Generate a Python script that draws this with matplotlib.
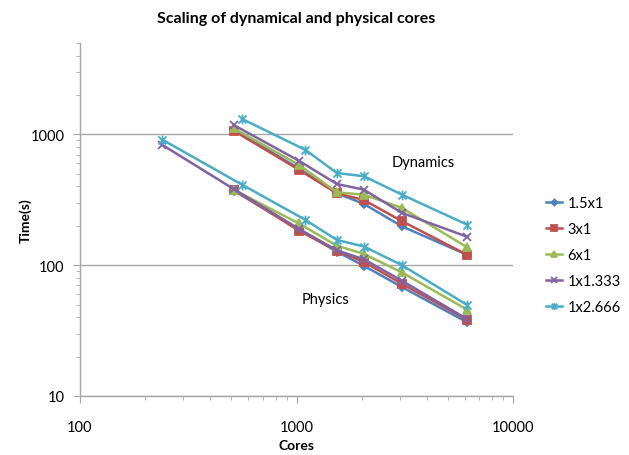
import matplotlib
matplotlib.use("Agg")
import matplotlib.pyplot as plt
from matplotlib.path import Path
from matplotlib.ticker import LogLocator, NullFormatter, FixedLocator, FixedFormatter

plt.rcParams['font.family'] = ['Lato', 'DejaVu Sans']

series_names = ["1.5x1", "3x1", "6x1", "1x1.333", "1x2.666"]

cores = [512, 1024, 1536, 2048, 3072, 6144]
cores_purple_phys = [240, 512, 1024, 1536, 2048, 3072, 6144]
cores_cyan_dyn = [560, 1100, 1536, 2048, 3072, 6144]
cores_cyan_phys = [240, 560, 1100, 1536, 2048, 3072, 6144]

dyn_15x1 = [1090, 550, 355, 294, 198, 120]
dyn_3x1 = [1069, 538, 355, 315, 217, 120]
dyn_6x1 = [1115, 587, 361, 346, 274, 137]
dyn_1x1333 = [1182, 630, 418, 378, 251, 165]
dyn_1x2666 = [1314, 761, 507, 479, 346, 204]

phys_15x1 = [372, 188, 127, 99, 68, 36.6]
phys_3x1 = [378, 184, 129, 106, 72, 38.3]
phys_6x1 = [378, 209, 141, 122, 88, 45.7]
phys_1x1333 = [831, 383, 190, 130, 111, 76, 38.7]
phys_1x2666 = [912, 413, 222, 156, 139, 100, 49.6]

x_tick_labels = ["100", "1000", "10000"]
y_tick_labels = ["10", "100", "1000"]

colors = ["#4F81BD", "#C0504D", "#9BBB59", "#8064A2", "#4BACC6"]

star = Path([(-1, -1), (1, 1), (-1, 1), (1, -1), (0, -1.2), (0, 1.2)],
            [Path.MOVETO, Path.LINETO, Path.MOVETO, Path.LINETO, Path.MOVETO, Path.LINETO])
markers = ["D", "s", "^", "x", star]
msizes = [4.5, 6, 6, 6, 7]

fig = plt.figure(figsize=(6.29, 4.56), dpi=100)
ax = fig.add_axes([80 / 629, 1 - 397 / 456, (513 - 80) / 629, (397 - 44) / 456])

data = [
    (cores, dyn_15x1, cores, phys_15x1),
    (cores, dyn_3x1, cores, phys_3x1),
    (cores, dyn_6x1, cores, phys_6x1),
    (cores, dyn_1x1333, cores_purple_phys, phys_1x1333),
    (cores_cyan_dyn, dyn_1x2666, cores_cyan_phys, phys_1x2666),
]

for i, (xd, yd, xp, yp) in enumerate(data):
    kw = dict(color=colors[i], lw=1.8, marker=markers[i], ms=msizes[i],
              mew=1.3, zorder=3)
    ax.plot(xd, yd, label=series_names[i], **kw)
    ax.plot(xp, yp, **kw)

ax.set_xscale("log")
ax.set_yscale("log")
ax.set_xlim(100, 10000)
ax.set_ylim(10, 5000)

ax.xaxis.set_major_locator(FixedLocator([100, 1000, 10000]))
ax.xaxis.set_major_formatter(FixedFormatter(x_tick_labels))
ax.yaxis.set_major_locator(FixedLocator([10, 100, 1000]))
ax.yaxis.set_major_formatter(FixedFormatter(y_tick_labels))
ax.xaxis.set_minor_locator(LogLocator(base=10, subs=range(2, 10)))
ax.yaxis.set_minor_locator(LogLocator(base=10, subs=range(2, 10)))
ax.xaxis.set_minor_formatter(NullFormatter())
ax.yaxis.set_minor_formatter(NullFormatter())

for s in ["top", "right"]:
    ax.spines[s].set_visible(False)
for s in ["left", "bottom"]:
    ax.spines[s].set_color("#A6A6A6")
    ax.spines[s].set_linewidth(1.0)

ax.tick_params(which="major", length=5, color="#A6A6A6", labelsize=10.5, pad=6)
ax.tick_params(which="minor", length=3, color="#A6A6A6")
ax.tick_params(axis="x", which="major", pad=12)

ax.grid(True, which="major", axis="y", color="#A6A6A6", lw=1.0)
ax.set_axisbelow(True)

ax.set_title("Scaling of dynamical and physical cores", fontsize=11.5,
             fontweight="bold", pad=15)
ax.set_xlabel("Cores", fontsize=10, fontweight="bold", va="center")
ax.xaxis.set_label_coords(0.5, (397 - 446) / 353)
ax.set_ylabel("Time(s)", fontsize=10, fontweight="bold")
ax.yaxis.set_label_coords(-48 / 433, 0.5)

ax.text(2761, 616, "Dynamics", fontsize=10.5, va="center", ha="left")
ax.text(1060, 55.1, "Physics", fontsize=10.5, va="center", ha="left")

leg = fig.legend(loc="upper left", bbox_to_anchor=(533 / 629, 1 - 184 / 456),
                 frameon=False, fontsize=10.5, handlelength=1.1,
                 labelspacing=0.82, handletextpad=0.35, markerscale=0.7)

fig.savefig("out.png", dpi=100)
